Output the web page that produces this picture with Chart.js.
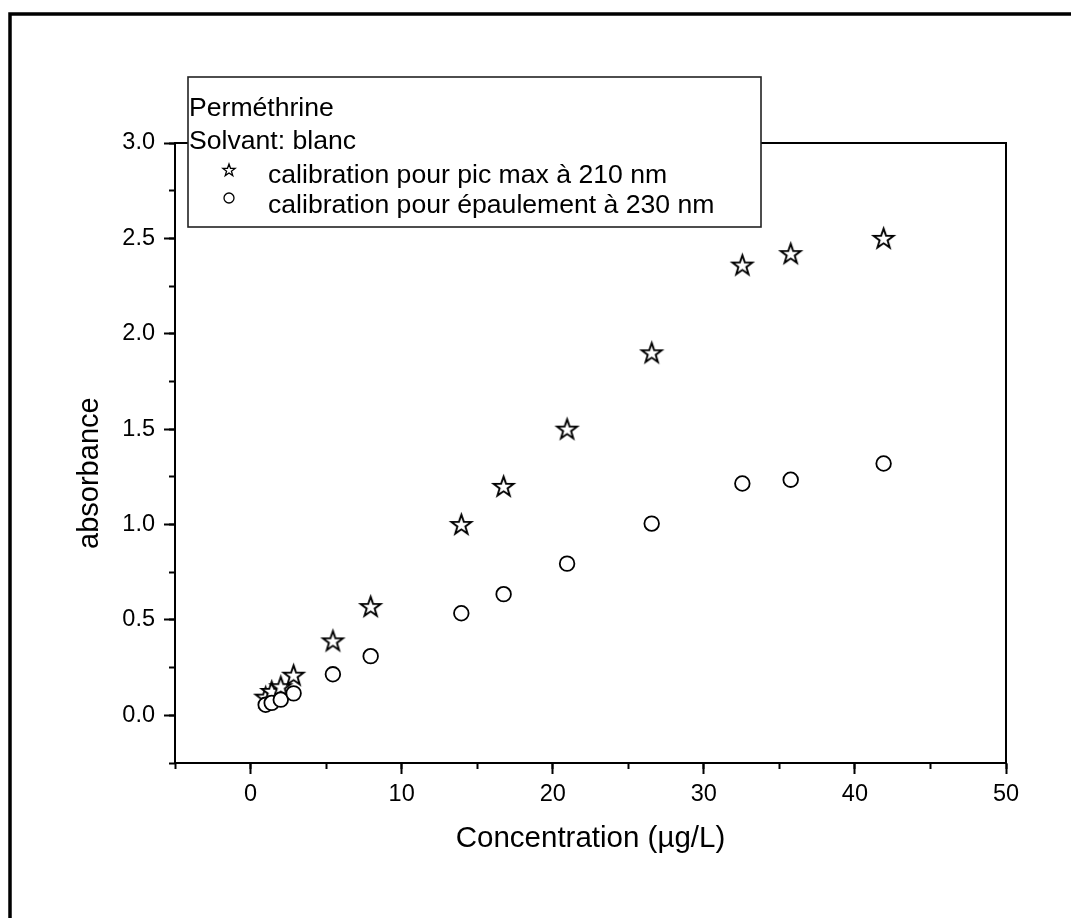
<!DOCTYPE html>
<html lang="fr">
<head>
<meta charset="utf-8">
<title>Perméthrine – calibration</title>
<script src="https://cdn.jsdelivr.net/npm/chart.js@4/dist/chart.umd.min.js"></script>
<style>
  html, body { margin: 0; padding: 0; background: #fff; }
  canvas { display: block; }
</style>
</head>
<body>
<canvas id="chart-calibration" width="1071" height="918"></canvas>
<script>
// ─── Data ───────────────────────────────────────────────
const concentrations = [1.0, 1.4, 2.0, 2.85, 5.45, 7.95, 13.95, 16.75, 20.95, 26.55, 32.55, 35.75, 41.9];
const absPic210      = [0.095, 0.125, 0.15, 0.21, 0.39, 0.57, 1.00, 1.20, 1.50, 1.90, 2.36, 2.42, 2.50];
const absEpaul230    = [0.055, 0.065, 0.082, 0.115, 0.215, 0.31, 0.535, 0.635, 0.795, 1.005, 1.215, 1.235, 1.32];

const legendTitle  = ['Perméthrine', 'Solvant: blanc'];
const seriesLabels = ['calibration pour pic max à 210 nm', 'calibration pour épaulement à 230 nm'];

const xMajorTicks = [0, 10, 20, 30, 40, 50];
const xMinorTicks = [-5, 0, 5, 10, 15, 20, 25, 30, 35, 40, 45, 50];
const yMajorTicks = [0, 0.5, 1.0, 1.5, 2.0, 2.5, 3.0];
const yMinorTicks = [-0.25, 0, 0.25, 0.5, 0.75, 1.0, 1.25, 1.5, 1.75, 2.0, 2.25, 2.5, 2.75, 3.0];

// ─── Helpers ────────────────────────────────────────────
const FAMILY = 'Arial, "Liberation Sans", sans-serif';
const font = size => ({ family: FAMILY, size });
const fixedTicks = list => scale => { scale.ticks = list.map(value => ({ value })); };

// open five-pointed star used as point style
function makeStar(outerR, lineW) {
  const innerR = outerR * 0.4;
  const size = Math.ceil(outerR * 2 + lineW * 2 + 4);
  const c = document.createElement('canvas');
  c.width = c.height = size;
  const g = c.getContext('2d');
  const cx = size / 2, cy = size / 2 + outerR * 0.06;
  g.beginPath();
  for (let i = 0; i < 10; i++) {
    const r = i % 2 ? innerR : outerR;
    const a = -Math.PI / 2 + i * Math.PI / 5;
    g.lineTo(cx + r * Math.cos(a), cy + r * Math.sin(a));
  }
  g.closePath();
  g.fillStyle = '#fff';
  g.fill();
  g.lineWidth = lineW;
  g.strokeStyle = '#000';
  g.stroke();
  return c;
}
const starPoint  = makeStar(10.5, 1.9);
const starLegend = makeStar(6.4, 1.3);

// ─── Outer frame + boxed legend ─────────────────────────
const framePlugin = {
  id: 'frame',
  afterDraw(chart) {
    const { ctx } = chart;
    ctx.save();
    ctx.lineWidth = 3.5;
    ctx.strokeStyle = '#000';
    ctx.beginPath();
    ctx.moveTo(10, 940);
    ctx.lineTo(10, 14);
    ctx.lineTo(1090, 14);
    ctx.stroke();
    ctx.restore();
  }
};

const legendBoxPlugin = {
  id: 'legendBox',
  afterDraw(chart) {
    const { ctx } = chart;
    const box = { left: 188, top: 77, right: 761, bottom: 227 };
    ctx.save();
    ctx.fillStyle = '#fff';
    ctx.fillRect(box.left, box.top, box.right - box.left, box.bottom - box.top);
    ctx.lineWidth = 1.6;
    ctx.strokeStyle = '#222';
    ctx.strokeRect(box.left, box.top, box.right - box.left, box.bottom - box.top);

    ctx.font = `26.6px ${FAMILY}`;
    ctx.fillStyle = '#000';
    ctx.textBaseline = 'alphabetic';
    ctx.fillText(legendTitle[0], 189, 116);
    ctx.fillText(legendTitle[1], 189, 149);

    // series entries
    ctx.drawImage(starLegend, 229 - starLegend.width / 2, 170 - starLegend.height / 2);
    ctx.fillText(seriesLabels[0], 268, 183);

    ctx.beginPath();
    ctx.arc(229, 198, 5, 0, Math.PI * 2);
    ctx.fillStyle = '#fff';
    ctx.fill();
    ctx.lineWidth = 1.3;
    ctx.strokeStyle = '#000';
    ctx.stroke();
    ctx.fillStyle = '#000';
    ctx.fillText(seriesLabels[1], 268, 213);
    ctx.restore();
  }
};

// ─── Chart ──────────────────────────────────────────────
const tickGrid = len => ({
  drawOnChartArea: false,
  drawTicks: true,
  tickLength: len,
  tickWidth: 2,
  tickColor: '#000',
});
const plainEdge = (position, min, max, fitProp) => ({
  type: 'linear',
  position, min, max,
  display: true,
  ticks: { display: false },
  grid: { display: false, drawTicks: false },
  border: { display: true, color: '#000', width: 2 },
  afterFit: s => { s[fitProp] = 0; },
});

new Chart(document.getElementById('chart-calibration'), {
  type: 'scatter',
  data: {
    datasets: [
      {
        label: seriesLabels[0],
        data: concentrations.map((x, i) => ({ x, y: absPic210[i] })),
        pointStyle: starPoint,
        pointRadius: 10,
        order: 2,
      },
      {
        label: seriesLabels[1],
        data: concentrations.map((x, i) => ({ x, y: absEpaul230[i] })),
        pointStyle: 'circle',
        pointRadius: 7.3,
        pointBorderWidth: 1.8,
        pointBorderColor: '#000',
        pointBackgroundColor: '#fff',
        order: 1,
      },
    ],
  },
  options: {
    responsive: false,
    animation: false,
    layout: { padding: { left: 0, top: 143, right: 65, bottom: 0 } },
    plugins: {
      legend: { display: false },
      tooltip: { enabled: false },
    },
    scales: {
      x: {
        type: 'linear',
        position: 'bottom',
        weight: 1,
        min: -5, max: 50,
        afterBuildTicks: fixedTicks(xMajorTicks),
        afterFit: s => { s.height = 155; },
        grid: tickGrid(11),
        border: { color: '#000', width: 2 },
        ticks: { color: '#000', font: font(23.5), padding: 6, autoSkip: false, maxRotation: 0, callback: v => String(v) },
        title: {
          display: true,
          text: 'Concentration (µg/L)',
          color: '#000',
          font: font(29.5),
          padding: { top: 0, bottom: 61 },
        },
      },
      xMinor: {
        type: 'linear',
        position: 'bottom',
        weight: 0,
        min: -5, max: 50,
        afterBuildTicks: fixedTicks(xMinorTicks),
        afterFit: s => { s.height = 0; },
        grid: tickGrid(6),
        border: { display: false },
        ticks: { display: false },
      },
      y: {
        type: 'linear',
        position: 'left',
        weight: 1,
        min: -0.25, max: 3.0,
        afterBuildTicks: fixedTicks(yMajorTicks),
        afterFit: s => { s.width = 175; },
        grid: tickGrid(11),
        border: { color: '#000', width: 2 },
        ticks: { color: '#000', font: font(23.5), padding: 9, autoSkip: false, callback: v => v.toFixed(1) },
        title: {
          display: true,
          text: 'absorbance     ',
          color: '#000',
          font: font(29),
          padding: { top: 73, bottom: 0 },
        },
      },
      yMinor: {
        type: 'linear',
        position: 'left',
        weight: 0,
        min: -0.25, max: 3.0,
        afterBuildTicks: fixedTicks(yMinorTicks),
        afterFit: s => { s.width = 0; },
        grid: tickGrid(6),
        border: { display: false },
        ticks: { display: false },
      },
      xTop: plainEdge('top', -5, 50, 'height'),
      yRight: plainEdge('right', -0.25, 3.0, 'width'),
    },
  },
  plugins: [framePlugin, legendBoxPlugin],
});
</script>
</body>
</html>
